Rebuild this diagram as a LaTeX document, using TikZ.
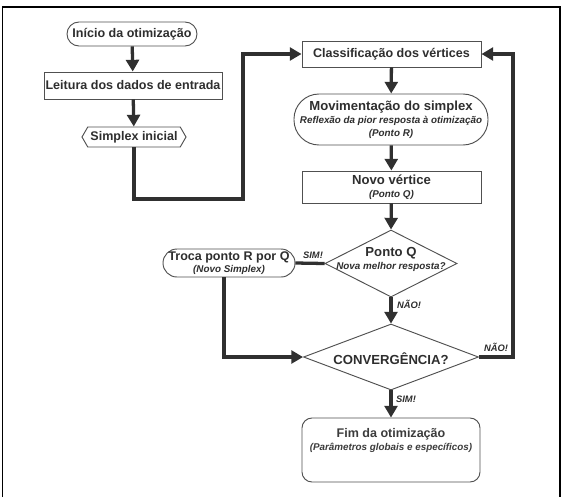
\documentclass[tikz,border=0pt]{standalone}
\usepackage{fontspec}
\setmainfont{Liberation Sans}
\usetikzlibrary{arrows.meta,shapes.geometric,shapes.symbols}
\definecolor{txt}{HTML}{2E2E2E}
\definecolor{txtl}{HTML}{3C3C3C}
\definecolor{bord}{HTML}{505050}
\definecolor{arrc}{HTML}{303030}
\newcommand{\ttl}{\fontsize{10.7}{12.5}\selectfont\bfseries}
\newcommand{\ttlb}{\fontsize{11.2}{13}\selectfont\bfseries}
\newcommand{\subt}{\fontsize{8.4}{10}\selectfont\bfseries\itshape}
\tikzset{
  box/.style={draw=bord, line width=0.8pt, fill=white, text=txt, inner sep=1pt, align=center},
  lnk/.style={draw=arrc, line width=2.8pt},
  arr/.style={lnk, -{Triangle[width=11pt,length=10pt]}},
  lbl/.style={text=txt, font=\fontsize{8}{9}\selectfont\bfseries\itshape, inner sep=0pt}
}
\begin{document}
\begin{tikzpicture}[x=0.03cm,y=-0.03cm]
\useasboundingbox (0,0) rectangle (567,497);
\draw[line width=1.6pt] (2.5,497) -- (2.5,7) -- (560,7) -- (560,497);

\node[box, minimum width=3.9cm, minimum height=0.72cm, rounded corners=0.36cm] (ini) at (132,34) {\ttl Início da otimização};
\node[box, minimum width=5.34cm, minimum height=0.81cm] (lei) at (133,85.5) {\ttl Leitura dos dados de entrada};
\node[box, signal, signal to=west and east, signal pointer angle=120, minimum width=3.12cm, minimum height=0.6cm] (sim) at (134,137) {\ttl Simplex inicial};
\node[box, minimum width=5.37cm, minimum height=0.78cm] (cls) at (391.5,54) {\ttl Classificação dos vértices};
\node[box, minimum width=5.82cm, minimum height=1.53cm, rounded corners=0.75cm] (mov) at (391,119.5) {\ttlb Movimentação do simplex\\[-1pt]\subt Reflexão da pior resposta à otimização\\[-1pt]\subt (Ponto R)};
\node[box, minimum width=5.37cm, minimum height=0.96cm] (nov) at (391.5,187) {\ttlb Novo vértice\\[-1pt]\subt (Ponto Q)};
\node[box, diamond, minimum width=3.96cm, minimum height=2.01cm, inner sep=0pt] (pq) at (391,263.5) {};
\node[text=txt, align=center, inner sep=0pt] (pqt) at (391,259) {\ttlb Ponto Q\\[-1pt]\subt Nova melhor resposta?};
\node[box, minimum width=3.96cm, minimum height=0.84cm, rounded corners=0.42cm] (tro) at (229,263) {\ttl Troca ponto R por Q\\[-2pt]\subt (Novo Simplex)};
\node[box, diamond, minimum width=5.25cm, minimum height=1.98cm, inner sep=0pt] (conv) at (391,357) {};
\node[text=txt, inner sep=0pt] (convt) at (391,359) {\ttlb CONVERGÊNCIA?};
\node[box, text=txtl, minimum width=5.34cm, minimum height=1.92cm, rounded corners=0.3cm] (fim) at (391,450) {\fontsize{10.7}{13}\selectfont\bfseries Fim da otimização\\[-1pt]\subt (Parâmetros globais e específicos)\\[6pt]};

\coordinate (b1) at (243,199);
\coordinate (r1) at (513,357);
\coordinate (t1) at (224,357);

\draw[arr] (ini) -- (lei);
\draw[arr] (lei) -- (sim);
\draw[arr] (sim) |- (b1) |- (cls.west);
\draw[arr] (cls) -- (mov);
\draw[arr] (mov) -- (nov);
\draw[arr] (nov) -- (pq.north);
\draw[lnk] (pq.west) -- (tro.east);
\draw[arr] (pq.south) -- (conv.north);
\draw[arr] (tro.south -| t1) -- (t1) -- (conv.west);
\draw[arr] (conv.east) -- (r1) |- (cls.east);
\draw[arr] (conv.south) -- (fim.north);

\node[lbl] (l1) at (313,255) {SIM!};
\node[lbl] (l2) at (409,304) {NÃO!};
\node[lbl] (l3) at (496,347.5) {NÃO!};
\node[lbl] (l4) at (406,399) {SIM!};
\end{tikzpicture}
\end{document}
